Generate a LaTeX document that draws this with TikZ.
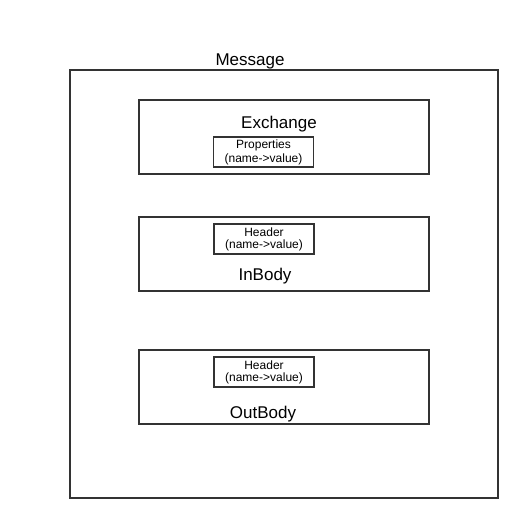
\documentclass[tikz,border=0pt]{standalone}
\usepackage{fontspec}
\setmainfont{Liberation Sans}
\begin{document}
\begin{tikzpicture}[x=1pt,y=-1pt,
  box/.style={draw=black!80,line width=1.5pt,inner sep=0pt,outer sep=0pt},
  small/.style={box,line width=1.5pt,minimum width=100pt,minimum height=30pt,font=\fontsize{12}{12}\selectfont,align=center},
  lbl/.style={font=\fontsize{17}{19}\selectfont,inner sep=0pt}]
\useasboundingbox (0,0) rectangle (519,519);
\node[box,minimum width=428pt,minimum height=428pt] (msg) at (284,284) {};
\node[lbl] (msgl) at (250,61) {Message};
\node[box,minimum width=290pt,minimum height=74pt] (ex) at (284,137) {};
\node[lbl] (exl) at (279,124) {Exchange};
\node[small] (prop) at (263.5,152) {\raisebox{-1pt}{\shortstack{Properties\\(name->value)}}};
\node[box,minimum width=290pt,minimum height=74pt] (in) at (284,254) {};
\node[small] (h1) at (264,239) {\raisebox{-1pt}{\shortstack{Header\\(name->value)}}};
\node[lbl] (inl) at (265,276) {InBody};
\node[box,minimum width=290pt,minimum height=74pt] (out) at (284,387) {};
\node[small] (h2) at (264,372) {\raisebox{-1pt}{\shortstack{Header\\(name->value)}}};
\node[lbl] (outl) at (263,414) {OutBody};
\end{tikzpicture}
\end{document}
